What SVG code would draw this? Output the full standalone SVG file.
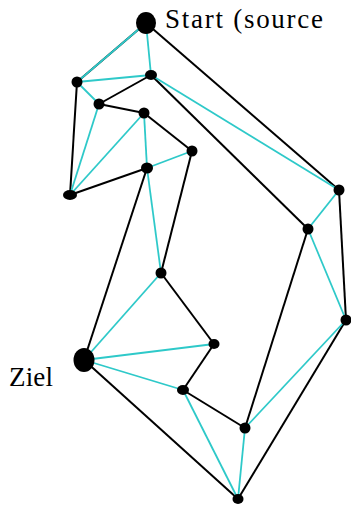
<svg xmlns="http://www.w3.org/2000/svg" width="351" height="507" viewBox="0 0 351 507">
<style>
.b{stroke:#000;stroke-width:2;fill:none}
.c{stroke:#2ec9c9;stroke-width:1.8;fill:none}
.n{fill:#000}
.t{font-family:"Liberation Serif","DejaVu Serif",serif;font-size:27px;fill:#000}
</style>
<rect width="351" height="507" fill="#fff"/>
<g id="connectors">
<g class="b">
<line x1="146" y1="23" x2="77" y2="82"/>
<line x1="146" y1="23" x2="339" y2="190"/>
<line x1="77" y1="82" x2="70" y2="195"/>
<line x1="151" y1="75" x2="99" y2="104"/>
<line x1="151" y1="75" x2="308" y2="229"/>
<line x1="99" y1="104" x2="144" y2="113"/>
<line x1="144" y1="113" x2="192" y2="151"/>
<line x1="192" y1="151" x2="161" y2="273"/>
<line x1="147" y1="168" x2="70" y2="195"/>
<line x1="147" y1="168" x2="84" y2="360"/>
<line x1="339" y1="190" x2="346" y2="320"/>
<line x1="308" y1="229" x2="245" y2="428"/>
<line x1="161" y1="273" x2="214" y2="344"/>
<line x1="214" y1="344" x2="183" y2="390"/>
<line x1="183" y1="390" x2="245" y2="428"/>
<line x1="84" y1="360" x2="238" y2="499"/>
<line x1="346" y1="320" x2="238" y2="499"/>
</g>
<g class="c">
<line x1="146" y1="23" x2="77" y2="82"/>
<line x1="146" y1="23" x2="151" y2="75"/>
<line x1="77" y1="82" x2="151" y2="75"/>
<line x1="77" y1="82" x2="99" y2="104"/>
<line x1="99" y1="104" x2="70" y2="195"/>
<line x1="144" y1="113" x2="70" y2="195"/>
<line x1="144" y1="113" x2="147" y2="168"/>
<line x1="147" y1="168" x2="192" y2="151"/>
<line x1="147" y1="168" x2="161" y2="273"/>
<line x1="151" y1="75" x2="339" y2="190"/>
<line x1="339" y1="190" x2="308" y2="229"/>
<line x1="308" y1="229" x2="346" y2="320"/>
<line x1="161" y1="273" x2="84" y2="360"/>
<line x1="84" y1="360" x2="214" y2="344"/>
<line x1="84" y1="360" x2="183" y2="390"/>
<line x1="183" y1="390" x2="238" y2="499"/>
<line x1="245" y1="428" x2="238" y2="499"/>
<line x1="245" y1="428" x2="346" y2="320"/>
</g>
</g>
<g id="start"><ellipse class="n" cx="146" cy="23" rx="10" ry="11"/><text class="t" x="165" y="28" textLength="158">Start (source</text></g>
<g id="ziel"><ellipse class="n" cx="84" cy="360" rx="10.5" ry="12"/><text class="t" x="9" y="386" textLength="44">Ziel</text></g>
<g id="nA"><ellipse class="n" cx="77" cy="82" rx="5.5" ry="5.5"/></g>
<g id="nB"><ellipse class="n" cx="151" cy="75" rx="6" ry="5"/></g>
<g id="nC"><ellipse class="n" cx="99" cy="104" rx="5.5" ry="5.5"/></g>
<g id="nD"><ellipse class="n" cx="144" cy="113" rx="5.5" ry="5.5"/></g>
<g id="nE"><ellipse class="n" cx="192" cy="151" rx="5.5" ry="5.5"/></g>
<g id="nF"><ellipse class="n" cx="147" cy="168" rx="6" ry="5.5"/></g>
<g id="nG"><ellipse class="n" cx="70" cy="195" rx="7" ry="5"/></g>
<g id="nH"><ellipse class="n" cx="339" cy="190" rx="5.5" ry="5.5"/></g>
<g id="nI"><ellipse class="n" cx="308" cy="229" rx="5.5" ry="5.5"/></g>
<g id="nJ"><ellipse class="n" cx="161" cy="273" rx="5.5" ry="5.5"/></g>
<g id="nK"><ellipse class="n" cx="346" cy="320" rx="5.5" ry="5.5"/></g>
<g id="nL"><ellipse class="n" cx="214" cy="344" rx="5.5" ry="5"/></g>
<g id="nM"><ellipse class="n" cx="183" cy="390" rx="6" ry="5"/></g>
<g id="nN"><ellipse class="n" cx="245" cy="428" rx="5.5" ry="5.5"/></g>
<g id="nO"><ellipse class="n" cx="238" cy="499" rx="5.5" ry="5"/></g>
</svg>
